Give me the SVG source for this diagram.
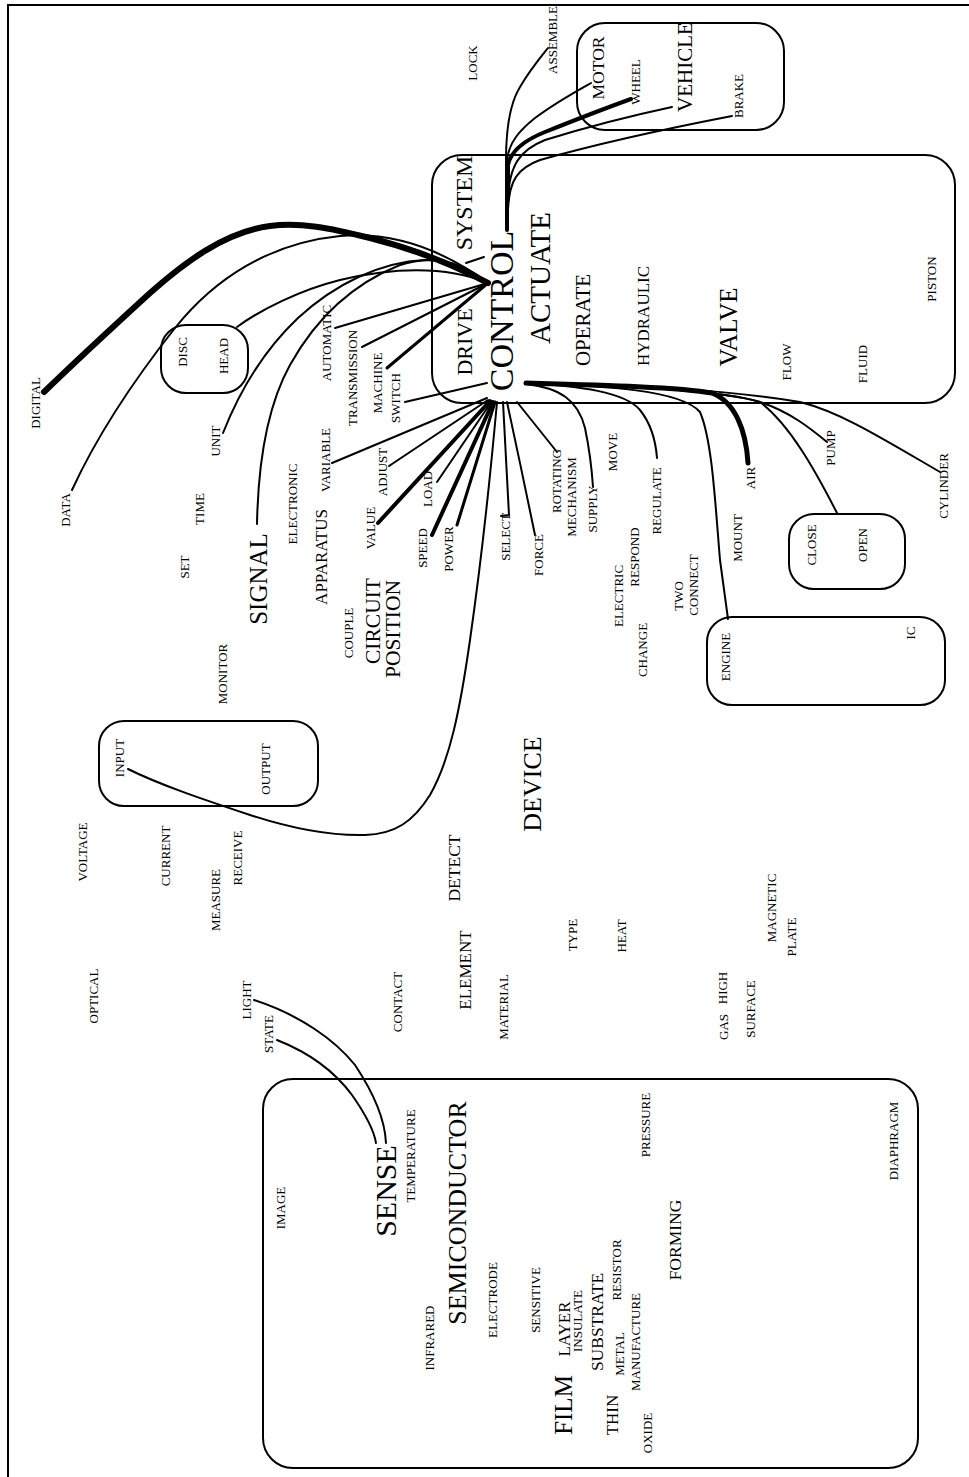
<svg xmlns="http://www.w3.org/2000/svg" width="969" height="1477" viewBox="0 0 969 1477">
<style>
.t{font-family:"Liberation Serif","Times New Roman",serif;fill:#000;text-anchor:middle}
.s{font-size:13px}
.box{fill:none;stroke:#000;stroke-width:2}
.ln{fill:none;stroke:#000;stroke-width:2;stroke-linecap:round;stroke-linejoin:round}
.w3{stroke-width:3}
.w4{stroke-width:4}
.w5{stroke-width:5}
.w6{stroke-width:6}
</style>
<rect width="969" height="1477" fill="#fff"/>
<rect x="8" y="5" width="1000" height="1500" class="box"/>

<g id="boxes">
<rect id="box-vehicle" x="577" y="23" width="207" height="107" rx="28" class="box"/>
<rect id="box-control" x="432" y="155" width="523" height="248" rx="30" class="box"/>
<rect id="box-disc" x="161" y="325" width="87" height="68" rx="25" class="box"/>
<rect id="box-input" x="99" y="721" width="219" height="85" rx="25" class="box"/>
<rect id="box-close" x="789" y="514" width="116" height="75" rx="25" class="box"/>
<rect id="box-engine" x="707" y="617" width="238" height="88" rx="25" class="box"/>
<rect id="box-sense" x="263" y="1079" width="655" height="389" rx="30" class="box"/>
</g>

<g id="connectors">
<path class="ln w4" d="M507,230 L507,168"/>
<path class="ln" d="M506,200 L506,160 C506,120 512,100 520,87 C530,70 540,58 548,48"/>
<path class="ln" d="M507,200 L507,160 C509,142 520,130 535,118 C555,103 575,92 591,83"/>
<path class="ln w4" d="M508,200 L508,165 C511,150 525,140 545,132 C570,122 595,112 631,99"/>
<path class="ln" d="M508,200 C509,165 520,150 545,140 C590,126 630,116 672,107"/>
<path class="ln" d="M508,210 C509,180 518,168 540,160 C600,143 670,128 732,116"/>

<path class="ln w6" d="M44,392 C75,362 115,325 150,293 C185,262 225,232 270,226 C300,222 330,228 370,238 C410,248 450,263 488,283"/>
<path class="ln" d="M72,490 C95,440 130,385 175,328 C215,278 270,243 340,236 C400,231 450,255 488,283"/>
<path class="ln" d="M237,327 C260,310 300,290 340,280 C390,268 445,265 488,283"/>
<path class="ln" d="M223,433 C238,395 262,352 298,318 C335,284 380,262 425,260 C455,259 475,272 488,283"/>
<path class="ln" d="M257,524 C258,470 265,410 290,365 C315,320 350,285 400,265 C440,252 468,268 488,283"/>
<path class="ln" d="M335,328 L488,283"/>
<path class="ln" d="M362,347 L488,283"/>
<path class="ln w3" d="M387,368 L488,283"/>
<path class="ln" d="M466,263 L484,257"/>
<path class="ln" d="M405,402 L487,383"/>

<path class="ln" d="M332,463 L487,398"/>
<path class="ln" d="M389,466 L488,400"/>
<path class="ln w4" d="M378,523 L490,401"/>
<path class="ln" d="M437,482 L492,401"/>
<path class="ln w4" d="M432,535 L493,402"/>
<path class="ln w3" d="M457,525 L495,402"/>
<path class="ln" d="M497,402 C490,480 480,570 470,640 C460,710 450,760 430,795 C413,822 395,834 365,835 C330,836 290,828 250,815 C205,800 160,785 128,769"/>
<path class="ln" d="M503,402 L509,515 L501,516"/>
<path class="ln" d="M507,402 C515,440 528,500 535,535"/>
<path class="ln" d="M517,402 L557,452"/>

<path class="ln" d="M526,384 C560,388 578,400 585,428 C590,452 592,472 593,487"/>
<path class="ln" d="M526,383 C580,386 625,392 640,410 C652,425 656,445 657,458"/>
<path class="ln" d="M526,383 C600,386 680,389 700,412 C712,440 715,500 720,560 C724,590 726,605 728,619"/>
<path class="ln w5" d="M526,383 C600,385 680,387 712,393 C735,402 746,430 748,463"/>
<path class="ln" d="M526,383 C620,385 720,390 760,402 C790,412 810,428 827,442"/>
<path class="ln" d="M526,383 C620,385 720,390 760,402 C790,425 815,470 837,513"/>
<path class="ln" d="M526,383 C620,384 730,390 800,402 C840,412 880,437 940,472"/>

<path class="ln" d="M254,1000 C300,1015 335,1040 355,1065 C375,1095 385,1120 386,1143"/>
<path class="ln" d="M277,1040 C310,1053 335,1072 352,1095 C366,1115 374,1130 376,1143"/>
</g>

<g id="n-lock"><text class="t s" transform="translate(477,63) rotate(-90)">LOCK</text></g>
<g id="n-assemble"><text class="t s" transform="translate(557,40) rotate(-90)">ASSEMBLE</text></g>
<g id="n-motor"><text class="t" font-size="17.5" transform="translate(604,68) rotate(-90)">MOTOR</text></g>
<g id="n-wheel"><text class="t s" transform="translate(640,82) rotate(-90)">WHEEL</text></g>
<g id="n-vehicle"><text class="t" font-size="21" transform="translate(692,67) rotate(-90)">VEHICLE</text></g>
<g id="n-brake"><text class="t s" transform="translate(743,96) rotate(-90)">BRAKE</text></g>

<g id="n-system"><text class="t" font-size="24" transform="translate(472,203) rotate(-90)">SYSTEM</text></g>
<g id="n-drive"><text class="t" font-size="22" transform="translate(472,342) rotate(-90)">DRIVE</text></g>
<g id="n-control"><text class="t" font-size="34" transform="translate(513,311) rotate(-90)">CONTROL</text></g>
<g id="n-actuate"><text class="t" font-size="29" transform="translate(550,278) rotate(-90)">ACTUATE</text></g>
<g id="n-operate"><text class="t" font-size="21" transform="translate(590,320) rotate(-90)">OPERATE</text></g>
<g id="n-hydraulic"><text class="t" font-size="17" transform="translate(649,316) rotate(-90)">HYDRAULIC</text></g>
<g id="n-valve"><text class="t" font-size="25" transform="translate(737,327) rotate(-90)">VALVE</text></g>
<g id="n-flow"><text class="t s" transform="translate(791,362) rotate(-90)">FLOW</text></g>
<g id="n-fluid"><text class="t s" transform="translate(867,364) rotate(-90)">FLUID</text></g>
<g id="n-piston"><text class="t s" transform="translate(936,279) rotate(-90)">PISTON</text></g>

<g id="n-digital"><text class="t s" transform="translate(40,403) rotate(-90)">DIGITAL</text></g>
<g id="n-data"><text class="t s" transform="translate(70,510) rotate(-90)">DATA</text></g>
<g id="n-disc"><text class="t s" transform="translate(187,352) rotate(-90)">DISC</text></g>
<g id="n-head"><text class="t s" transform="translate(228,356) rotate(-90)">HEAD</text></g>
<g id="n-automatic"><text class="t s" transform="translate(331,343) rotate(-90)">AUTOMATIC</text></g>
<g id="n-transmission"><text class="t s" transform="translate(357,378) rotate(-90)">TRANSMISSION</text></g>
<g id="n-machine"><text class="t s" transform="translate(382,383) rotate(-90)">MACHINE</text></g>
<g id="n-switch"><text class="t s" transform="translate(400,398) rotate(-90)">SWITCH</text></g>
<g id="n-unit"><text class="t s" transform="translate(220,441) rotate(-90)">UNIT</text></g>
<g id="n-variable"><text class="t s" transform="translate(330,460) rotate(-90)">VARIABLE</text></g>
<g id="n-adjust"><text class="t s" transform="translate(387,472) rotate(-90)">ADJUST</text></g>
<g id="n-load"><text class="t s" transform="translate(432,489) rotate(-90)">LOAD</text></g>
<g id="n-electronic"><text class="t s" transform="translate(297,504) rotate(-90)">ELECTRONIC</text></g>
<g id="n-time"><text class="t s" transform="translate(204,509) rotate(-90)">TIME</text></g>
<g id="n-set"><text class="t s" transform="translate(189,567) rotate(-90)">SET</text></g>
<g id="n-signal"><text class="t" font-size="25" transform="translate(267,579) rotate(-90)">SIGNAL</text></g>
<g id="n-apparatus"><text class="t" font-size="17" transform="translate(327,557) rotate(-90)">APPARATUS</text></g>
<g id="n-value"><text class="t s" transform="translate(375,528) rotate(-90)">VALUE</text></g>
<g id="n-speed"><text class="t s" transform="translate(427,548) rotate(-90)">SPEED</text></g>
<g id="n-power"><text class="t s" transform="translate(453,549) rotate(-90)">POWER</text></g>
<g id="n-monitor"><text class="t s" transform="translate(227,674) rotate(-90)">MONITOR</text></g>
<g id="n-couple"><text class="t s" transform="translate(353,633) rotate(-90)">COUPLE</text></g>
<g id="n-circuit"><text class="t" font-size="21.5" transform="translate(380,621) rotate(-90)">CIRCUIT</text></g>
<g id="n-position"><text class="t" font-size="21.5" transform="translate(400,629) rotate(-90)">POSITION</text></g>
<g id="n-input"><text class="t s" transform="translate(124,758) rotate(-90)">INPUT</text></g>
<g id="n-output"><text class="t s" transform="translate(270,769) rotate(-90)">OUTPUT</text></g>
<g id="n-voltage"><text class="t s" transform="translate(87,852) rotate(-90)">VOLTAGE</text></g>
<g id="n-current"><text class="t s" transform="translate(170,856) rotate(-90)">CURRENT</text></g>
<g id="n-measure"><text class="t s" transform="translate(220,900) rotate(-90)">MEASURE</text></g>
<g id="n-receive"><text class="t s" transform="translate(242,858) rotate(-90)">RECEIVE</text></g>
<g id="n-optical"><text class="t s" transform="translate(98,996) rotate(-90)">OPTICAL</text></g>
<g id="n-light"><text class="t s" transform="translate(251,1000) rotate(-90)">LIGHT</text></g>
<g id="n-state"><text class="t s" transform="translate(273,1034) rotate(-90)">STATE</text></g>
<g id="n-contact"><text class="t s" transform="translate(402,1002) rotate(-90)">CONTACT</text></g>
<g id="n-detect"><text class="t" font-size="17.5" transform="translate(460,868) rotate(-90)">DETECT</text></g>
<g id="n-device"><text class="t" font-size="26" transform="translate(541,784) rotate(-90)">DEVICE</text></g>
<g id="n-element"><text class="t" font-size="17" transform="translate(471,970) rotate(-90)">ELEMENT</text></g>
<g id="n-material"><text class="t s" transform="translate(508,1007) rotate(-90)">MATERIAL</text></g>
<g id="n-type"><text class="t s" transform="translate(577,935) rotate(-90)">TYPE</text></g>
<g id="n-heat"><text class="t s" transform="translate(626,936) rotate(-90)">HEAT</text></g>
<g id="n-magnetic"><text class="t s" transform="translate(776,908) rotate(-90)">MAGNETIC</text></g>
<g id="n-plate"><text class="t s" transform="translate(796,937) rotate(-90)">PLATE</text></g>
<g id="n-gas"><text class="t s" transform="translate(728,1027) rotate(-90)">GAS</text></g>
<g id="n-high"><text class="t s" transform="translate(727,988) rotate(-90)">HIGH</text></g>
<g id="n-surface"><text class="t s" transform="translate(755,1009) rotate(-90)">SURFACE</text></g>

<g id="n-select"><text class="t s" transform="translate(510,537) rotate(-90)">SELECT</text></g>
<g id="n-force"><text class="t s" transform="translate(543,555) rotate(-90)">FORCE</text></g>
<g id="n-rotating"><text class="t s" transform="translate(561,481) rotate(-90)">ROTATING</text></g>
<g id="n-mechanism"><text class="t s" transform="translate(576,497) rotate(-90)">MECHANISM</text></g>
<g id="n-supply"><text class="t s" transform="translate(597,509) rotate(-90)">SUPPLY</text></g>
<g id="n-move"><text class="t s" transform="translate(617,452) rotate(-90)">MOVE</text></g>
<g id="n-regulate"><text class="t s" transform="translate(661,501) rotate(-90)">REGULATE</text></g>
<g id="n-electric"><text class="t s" transform="translate(623,596) rotate(-90)">ELECTRIC</text></g>
<g id="n-respond"><text class="t s" transform="translate(639,557) rotate(-90)">RESPOND</text></g>
<g id="n-two"><text class="t s" transform="translate(683,596) rotate(-90)">TWO</text></g>
<g id="n-connect"><text class="t s" transform="translate(698,585) rotate(-90)">CONNECT</text></g>
<g id="n-change"><text class="t s" transform="translate(647,650) rotate(-90)">CHANGE</text></g>
<g id="n-engine"><text class="t s" transform="translate(730,657) rotate(-90)">ENGINE</text></g>
<g id="n-ic"><text class="t s" transform="translate(915,633) rotate(-90)">IC</text></g>
<g id="n-mount"><text class="t s" transform="translate(742,538) rotate(-90)">MOUNT</text></g>
<g id="n-air"><text class="t s" transform="translate(755,478) rotate(-90)">AIR</text></g>
<g id="n-pump"><text class="t s" transform="translate(835,448) rotate(-90)">PUMP</text></g>
<g id="n-cylinder"><text class="t s" transform="translate(948,486) rotate(-90)">CYLINDER</text></g>
<g id="n-close"><text class="t s" transform="translate(816,545) rotate(-90)">CLOSE</text></g>
<g id="n-open"><text class="t s" transform="translate(867,545) rotate(-90)">OPEN</text></g>

<g id="n-image"><text class="t s" transform="translate(285,1208) rotate(-90)">IMAGE</text></g>
<g id="n-sense"><text class="t" font-size="30" transform="translate(396,1191) rotate(-90)">SENSE</text></g>
<g id="n-temperature"><text class="t s" transform="translate(415,1156) rotate(-90)">TEMPERATURE</text></g>
<g id="n-semiconductor"><text class="t" font-size="26" transform="translate(466,1213) rotate(-90)">SEMICONDUCTOR</text></g>
<g id="n-infrared"><text class="t s" transform="translate(434,1338) rotate(-90)">INFRARED</text></g>
<g id="n-electrode"><text class="t s" transform="translate(497,1300) rotate(-90)">ELECTRODE</text></g>
<g id="n-sensitive"><text class="t s" transform="translate(540,1300) rotate(-90)">SENSITIVE</text></g>
<g id="n-layer"><text class="t" font-size="17" transform="translate(570,1329) rotate(-90)">LAYER</text></g>
<g id="n-insulate"><text class="t s" transform="translate(582,1321) rotate(-90)">INSULATE</text></g>
<g id="n-substrate"><text class="t" font-size="17.5" transform="translate(603,1322) rotate(-90)">SUBSTRATE</text></g>
<g id="n-resistor"><text class="t s" transform="translate(621,1270) rotate(-90)">RESISTOR</text></g>
<g id="n-metal"><text class="t s" transform="translate(624,1354) rotate(-90)">METAL</text></g>
<g id="n-manufacture"><text class="t s" transform="translate(640,1342) rotate(-90)">MANUFACTURE</text></g>
<g id="n-film"><text class="t" font-size="25" transform="translate(572,1405) rotate(-90)">FILM</text></g>
<g id="n-thin"><text class="t" font-size="17" transform="translate(618,1415) rotate(-90)">THIN</text></g>
<g id="n-oxide"><text class="t s" transform="translate(652,1433) rotate(-90)">OXIDE</text></g>
<g id="n-pressure"><text class="t s" transform="translate(650,1125) rotate(-90)">PRESSURE</text></g>
<g id="n-forming"><text class="t" font-size="17.5" transform="translate(681,1240) rotate(-90)">FORMING</text></g>
<g id="n-diaphragm"><text class="t s" transform="translate(898,1141) rotate(-90)">DIAPHRAGM</text></g>
</svg>
